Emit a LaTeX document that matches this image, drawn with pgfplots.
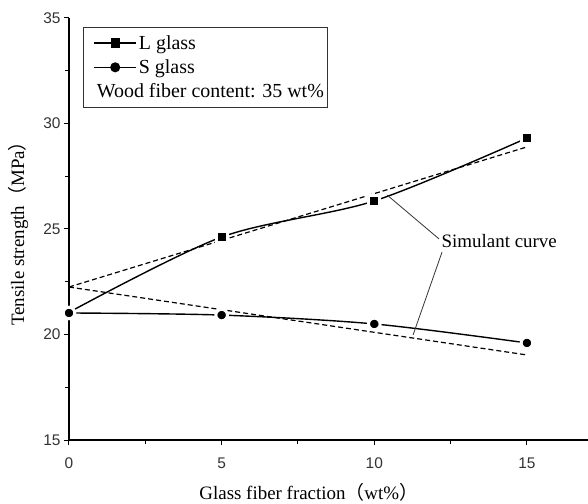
\documentclass[border=0pt]{standalone}
\usepackage{fontspec}
\setmainfont{Liberation Serif}
\newfontfamily\tickfont{Liberation Sans}
\newfontfamily\cjk{Noto Sans CJK SC}
\usepackage{pgfplots}
\pgfplotsset{compat=1.18}
\pgfplotsset{
    longline/.style={legend image code/.code={
        \draw[mark repeat=2, mark phase=2, ##1] plot coordinates {(0bp,0bp) (21bp,0bp) (42bp,0bp)};
    }},
}
\begin{document}
\begin{tikzpicture}
\begin{axis}[
    at={(0,0)}, anchor=south west,
    scale only axis,
    width=519bp, height=422bp,
    xmin=0, xmax=17, ymin=15, ymax=35,
    axis x line=bottom, axis y line=left,
    axis line style={-, line width=1.1bp},
    xtick={0,5,10,15}, ytick={15,20,25,30,35},
    minor x tick num=1, minor y tick num=1,
    tick align=outside,
    major tick length=5bp, minor tick length=3.5bp,
    every tick/.style={black, line width=1bp},
    ticklabel style={font=\tickfont\fontsize{15.5}{17}\selectfont, text=black!80},
    xticklabel style={yshift=-9bp},
    /pgf/number format/assume math mode=true,
    xlabel={Glass fiber fraction{\cjk （}wt\%{\cjk ）}},
    ylabel={Tensile strength{\cjk （}MPa{\cjk ）}},
    every axis x label/.style={at={(axis description cs:0.462,-0.123)}, anchor=center,
        font=\fontsize{19}{22}\selectfont},
    every axis y label/.style={at={(axis description cs:-0.098,0.5)}, anchor=center, rotate=90,
        font=\fontsize{19}{22}\selectfont},
    legend style={at={(axis description cs:0.027,0.979)}, anchor=north west,
        draw=black!80, line width=1bp, fill=white,
        font=\fontsize{20}{22}\selectfont,
        inner xsep=10bp, inner ysep=6bp,
        row sep=5bp},
    legend cell align=left,
]
% fitted lines
\addplot[black, dashed, line width=1.2bp, dash pattern=on 5bp off 3bp, forget plot]
    coordinates {(0,22.25) (15,28.89)};
\addplot[black, dashed, line width=1.2bp, dash pattern=on 5bp off 3bp, forget plot]
    coordinates {(0,22.25) (15,19.03)};
% L glass
\addplot[black, line width=1.4bp, smooth, forget plot]
    coordinates {(0,21.05) (5,24.62) (10,26.33) (15,29.31)};
\addplot[only marks, mark=square*, mark size=5.5bp, mark indices={2,3,4},
    mark options={fill=black, draw=white, line width=3bp}, forget plot]
    coordinates {(0,21.05) (5,24.62) (10,26.33) (15,29.31)};
% S glass
\addplot[black, line width=1.4bp, smooth, forget plot]
    coordinates {(0,21.02) (5,20.92) (10,20.50) (15,19.60)};
\addplot[only marks, mark=*, mark size=5.8bp,
    mark options={fill=black, draw=white, line width=3bp}, forget plot]
    coordinates {(0,21.02) (5,20.92) (10,20.50) (15,19.60)};
% legend
\addlegendimage{black, line width=1.4bp, mark=square*, mark size=4bp, longline}
\addlegendentry{L glass}
\addlegendimage{black, line width=1.4bp, mark=*, mark size=4.3bp, longline}
\addlegendentry{S glass}
\addlegendimage{empty legend}
\addlegendentry{\kern-42bp Wood fiber content: 35 wt\%\kern-8bp}
% annotation
\draw[black!80, line width=0.8bp] (axis cs:12.12,24.53) -- (axis cs:10.42,26.61);
\draw[black!80, line width=0.8bp] (axis cs:12.22,23.91) -- (axis cs:11.27,19.98);
\node[anchor=base west, inner sep=0pt, font=\fontsize{19}{22}\selectfont]
    at (axis cs:12.2,24.1) {Simulant curve};
\end{axis}
\pgfresetboundingbox
\path[use as bounding box] (-69bp,-64bp) rectangle (519bp,440bp);
\end{tikzpicture}
\end{document}
